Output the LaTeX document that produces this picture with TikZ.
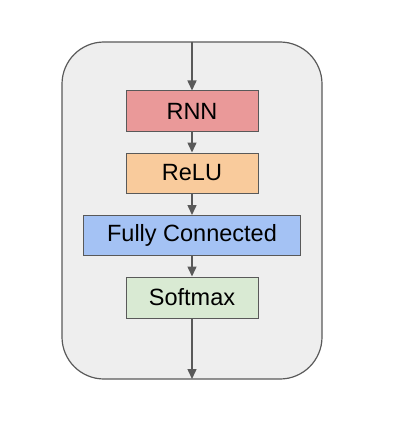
\documentclass[tikz,border=0pt]{standalone}
\usepackage{fontspec}
\setmainfont{Liberation Sans}
\usetikzlibrary{arrows.meta}
\definecolor{edgegrey}{HTML}{595959}
\definecolor{contfill}{HTML}{EEEEEE}
\definecolor{rnnfill}{HTML}{EA9999}
\definecolor{relufill}{HTML}{F9CB9C}
\definecolor{fcfill}{HTML}{A4C2F4}
\definecolor{smfill}{HTML}{D9EAD3}
\tikzset{
  layerbox/.style={draw=edgegrey, line width=1pt, minimum height=40pt, inner sep=0pt,
    font=\fontsize{23.5}{28}\selectfont, text=black},
  flow/.style={draw=edgegrey, line width=1.5pt, -{Triangle[width=9pt,length=10pt]}},
}
\begin{document}
\begin{tikzpicture}[x=1pt,y=-1pt]
\useasboundingbox (0,0) rectangle (406,425);
\draw[draw=edgegrey, fill=contfill, line width=1.2pt, rounded corners=42pt] (62,42) rectangle (322,379);
\coordinate (top) at (192,42);
\coordinate (bot) at (192,379);
\node[layerbox, fill=rnnfill, minimum width=132pt] (rnn) at (192,111) {RNN};
\node[layerbox, fill=relufill, minimum width=132pt] (relu) at (192,173) {ReLU};
\node[layerbox, fill=fcfill, minimum width=217pt] (fc) at (192,235.5) {Fully Connected};
\node[layerbox, fill=smfill, minimum width=132pt, minimum height=41pt] (sm) at (192,297.5) {Softmax};
\draw[flow] (top) -- (rnn);
\draw[flow] (rnn) -- (relu);
\draw[flow] (relu) -- (fc);
\draw[flow] (fc) -- (sm);
\draw[flow] (sm) -- (bot);
\end{tikzpicture}
\end{document}
